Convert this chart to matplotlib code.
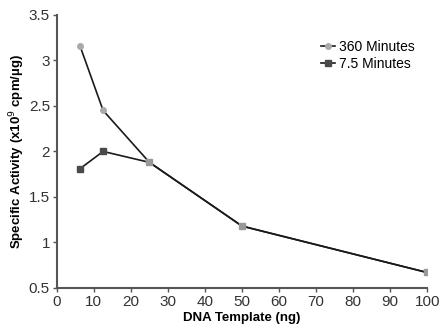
import matplotlib.pyplot as plt
from matplotlib import font_manager

names = {f.name for f in font_manager.fontManager.ttflist}
fam = 'Liberation Sans Narrow' if 'Liberation Sans Narrow' in names else 'Liberation Sans'
plt.rcParams['font.family'] = [fam, 'DejaVu Sans']

dna = [6.25, 12.5, 25, 50, 100]
min360 = [3.16, 2.45, 1.88, 1.18, 0.67]
min7_5 = [1.81, 2.0, 1.88, 1.18, 0.67]

fig = plt.figure(figsize=(4.44, 3.31), dpi=100)
ax = fig.add_axes([0.128, 0.13, 0.834, 0.825])

ax.plot(dna, min360, color='#1a1a1a', lw=1.2, marker='o', ms=4,
        mfc='#aaaaaa', mec='#aaaaaa', markevery=[0, 1], label='360 Minutes', zorder=3)
ax.plot(dna, min7_5, color='#1a1a1a', lw=1.2, marker='s', ms=5,
        mfc='#4a4a4a', mec='#4a4a4a', markevery=[0, 1], label='7.5 Minutes', zorder=2)
# shared points overlap -> lighter squares
ax.plot(dna[2:], min360[2:], ls='none', marker='s', ms=5, mfc='#999999', mec='#999999', zorder=4)

ax.set_xlim(0, 100)
ax.set_ylim(0.5, 3.5)
ax.set_xticks(range(0, 101, 10))
ax.set_yticks([0.5, 1, 1.5, 2, 2.5, 3, 3.5])
ax.set_yticklabels(['0.5', '1', '1.5', '2', '2.5', '3', '3.5'])

for s in ['top', 'right']:
    ax.spines[s].set_visible(False)
for s in ['left', 'bottom']:
    ax.spines[s].set_color('#555555')
    ax.spines[s].set_linewidth(1.5)
ax.tick_params(direction='out', length=3, width=1, color='#555555',
               labelsize=11, labelcolor='#333333', pad=2)

ax.set_xlabel('DNA Template (ng)', fontsize=9.5, fontweight='bold', labelpad=2)
ax.set_ylabel('Specific Activity (x10$^9$ cpm/µg)', fontsize=9.5, fontweight='bold', labelpad=1)

ax.legend(loc='upper right', bbox_to_anchor=(1.0, 0.955), frameon=False, fontsize=10,
          handlelength=1.0, handletextpad=0.3, labelspacing=0.25)

fig.savefig('out.png', dpi=100)
